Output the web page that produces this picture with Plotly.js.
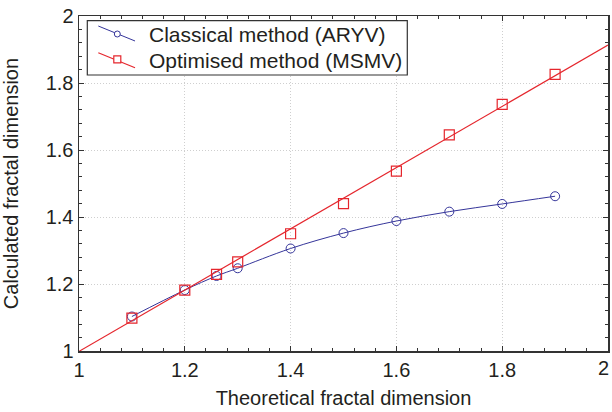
<!DOCTYPE html>
<html><head><meta charset="utf-8">
<script src="https://cdn.plot.ly/plotly-3.0.1.min.js"></script>
<style>html,body{margin:0;padding:0;background:#fff}#chart{width:612px;height:412px}</style>
</head><body><div id="chart"></div>
<script>
const theoretical = [1.1, 1.2, 1.26, 1.3, 1.4, 1.5, 1.6, 1.7, 1.8, 1.9];
const classicalARYV = [1.103, 1.182, 1.224, 1.247, 1.306, 1.352, 1.388, 1.416, 1.439, 1.462];
const optimisedMSMV = [1.098, 1.182, 1.229, 1.266, 1.350, 1.440, 1.537, 1.645, 1.736, 1.826];
const fitX = [1, 2];
const fitY = [0.999, 1.913];
const tickVals = [1, 1.2, 1.4, 1.6, 1.8, 2];
const tickText = ['1', '1.2', '1.4', '1.6', '1.8', '2'];
const seriesNames = ['Classical method (ARYV)', 'Optimised method (MSMV)'];

const blue = '#35359a';
const red = '#e5262d';
const ink = '#231f20';
const font = {family: 'Liberation Sans, Arial, sans-serif', size: 20, color: ink};
const legFont = {family: 'Liberation Sans, Arial, sans-serif', size: 21, color: ink};

const traces = [
  {x: theoretical, y: classicalARYV, name: seriesNames[0], mode: 'lines+markers',
   line: {color: blue, width: 1, shape: 'spline', smoothing: 1},
   marker: {symbol: 'circle-open', size: 9, color: blue, line: {width: 1}}},
  {x: fitX, y: fitY, mode: 'lines', line: {color: red, width: 1.2}},
  {x: theoretical, y: optimisedMSMV, name: seriesNames[1], mode: 'markers',
   marker: {symbol: 'square-open', size: 10, color: red, line: {width: 1.2}}}
];

const axisCommon = {
  tickvals: tickVals, ticks: 'inside', ticklen: 5, tickcolor: '#333',
  showline: true, linecolor: '#333', linewidth: 1.5, mirror: 'allticks',
  showgrid: true, gridcolor: '#cfcfcf', griddash: '1px,2px', gridwidth: 1,
  zeroline: false, tickfont: font,
  minor: {dtick: 0.04, ticks: 'inside', ticklen: 3, tickcolor: '#333', showgrid: false}
};

// last x tick label drawn as an annotation so it stays inside the page edge
const xTickText = tickText.slice(0, -1).concat(['']);
const lastXLabel = tickText[tickText.length - 1];

// hand-drawn legend (slanted samples as in the reference)
const shapes = [
  {type: 'rect', xref: 'paper', yref: 'paper', x0: 0.0157, x1: 0.6206, y0: 0.8239, y1: 0.9860,
   fillcolor: '#fff', line: {color: '#333', width: 1.2}, layer: 'above'},
  {type: 'line', xref: 'paper', yref: 'paper', x0: 0.0365, y0: 0.9701, x1: 0.1059, y1: 0.9254,
   line: {color: blue, width: 1}, layer: 'above'},
  {type: 'circle', xref: 'paper', yref: 'paper', xsizemode: 'pixel', ysizemode: 'pixel',
   xanchor: 0.0724, yanchor: 0.9463, x0: -3, x1: 3, y0: -3, y1: 3,
   fillcolor: '#fff', line: {color: blue, width: 1}, layer: 'above'},
  {type: 'line', xref: 'paper', yref: 'paper', x0: 0.0365, y0: 0.8904, x1: 0.1059, y1: 0.8457,
   line: {color: red, width: 1.2}, layer: 'above'},
  {type: 'rect', xref: 'paper', yref: 'paper', xsizemode: 'pixel', ysizemode: 'pixel',
   xanchor: 0.0724, yanchor: 0.8707, x0: -3.5, x1: 3.5, y0: -3.5, y1: 3.5,
   fillcolor: '#fff', line: {color: red, width: 1.2}, layer: 'above'}
];
const annotations = [
  {xref: 'paper', yref: 'paper', x: 0.1290, y: 0.9433, xanchor: 'left', yanchor: 'middle',
   text: seriesNames[0], showarrow: false, font: legFont},
  {xref: 'paper', yref: 'paper', x: 0.1290, y: 0.8657, xanchor: 'left', yanchor: 'middle',
   text: seriesNames[1], showarrow: false, font: legFont},
  {xref: 'x', yref: 'paper', x: tickVals[tickVals.length - 1], y: 0, xanchor: 'right', yanchor: 'top',
   xshift: 3, yshift: -4, text: lastXLabel, showarrow: false, font: font}
];

const layout = {
  width: 612, height: 412,
  margin: {l: 79, r: 4, t: 16, b: 61},
  paper_bgcolor: '#fff', plot_bgcolor: '#fff',
  font: font,
  showlegend: false,
  shapes: shapes,
  annotations: annotations,
  xaxis: Object.assign({}, axisCommon, {range: [1, 2], ticktext: xTickText,
    title: {text: 'Theoretical fractal dimension', font: font, standoff: 11}}),
  yaxis: Object.assign({}, axisCommon, {range: [1, 2], ticktext: tickText,
    title: {text: 'Calculated fractal dimension', font: font, standoff: 28}})
};

Plotly.newPlot('chart', traces, layout, {staticPlot: true, displayModeBar: false});
</script></body></html>
